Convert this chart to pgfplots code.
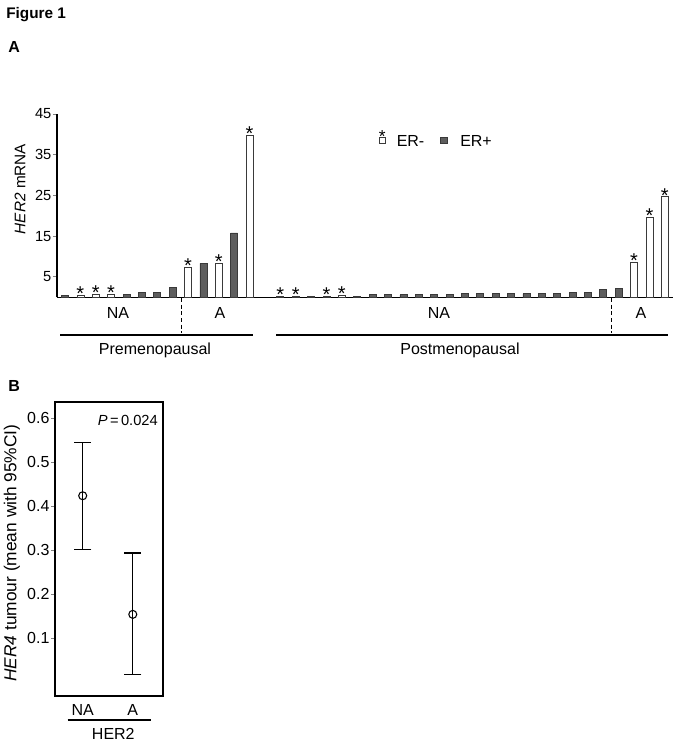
\documentclass[border=0pt]{standalone}
\usepackage{pgfplots}
\pgfplotsset{compat=1.18}
\usepackage{pgfplotstable}
\usepackage{fontspec}
\setmainfont{Liberation Sans}
\definecolor{darkbar}{HTML}{5E5E5E}
\definecolor{edge}{HTML}{3A3A3A}

% ER- bars (white, marked with *)
\pgfplotstableread{
x y
1 0.5
2 0.75
3 0.75
8 7.3
10 8.3
12 39.8
14 0.2
15 0.2
17 0.2
18 0.5
37 8.7
38 19.7
39 24.7
}\erneg
% ER+ bars (dark)
\pgfplotstableread{
x y
0 0.4
4 0.75
5 1.15
6 1.15
7 2.45
9 8.3
11 15.8
16 0.2
19 0.3
20 0.6
21 0.6
22 0.6
23 0.6
24 0.6
25 0.6
26 0.85
27 0.85
28 0.85
29 0.85
30 0.85
31 0.85
32 0.85
33 1.1
34 1.1
35 1.95
36 2.2
}\erpos

\begin{document}
\begin{tikzpicture}
\path[use as bounding box] (0pt,0pt) rectangle (510pt,-559.5pt);

\begin{axis}[
  at={(42.75pt,-222.98pt)}, anchor=south west,
  scale only axis, width=462pt, height=137.5pt,
  xmin=-0.52, xmax=39.53, ymin=0, ymax=45,
  axis x line*=bottom, axis y line*=left,
  axis line style={-, line width=0.9pt},
  every outer x axis line/.append style={-},
  every outer y axis line/.append style={-},
  xtick=\empty,
  ytick={5,15,25,35,45},
  tick align=outside, major tick length=3pt,
  ytick style={line width=0.7pt},
  /pgf/number format/assume math mode=true,
  yticklabel style={font=\fontsize{11}{13}\selectfont, inner sep=1pt},
  ylabel={\textit{HER2} mRNA},
  ylabel style={at={(axis description cs:-0.06,0.591)}, anchor=center, font=\fontsize{11.5}{13}\selectfont},
  clip=false,
]
\addplot[ybar, bar width=5.25pt, bar shift=0pt, fill=white, draw=edge, line width=0.55pt,
  nodes near coords={*},
  every node near coord/.append style={anchor=base, inner sep=0pt, yshift=-4pt, font=\fontsize{15}{15}\selectfont, text=black}]
  table {\erneg};
\addplot[ybar, bar width=5.25pt, bar shift=0pt, fill=darkbar, draw=edge, line width=0.55pt]
  table {\erpos};
\end{axis}

\begin{axis}[
  at={(41.25pt,-522pt)}, anchor=south west,
  scale only axis, width=81pt, height=220.5pt,
  xmin=0.447, xmax=2.603, ymin=-0.031, ymax=0.637,
  xtick={1,2}, xticklabels={NA,A},
  x tick style={draw=none},
  xticklabel style={font=\fontsize{12}{14}\selectfont},
  ytick={0.1,0.2,0.3,0.4,0.5,0.6},
  yticklabels={0.1,0.2,0.3,0.4,0.5,0.6},
  ytick pos=left, tick align=outside, major tick length=3pt,
  yticklabel style={font=\fontsize{12}{14}\selectfont, inner sep=1pt},
  axis line style={line width=0.9pt},
  ylabel={\textit{HER4} tumour (mean with 95\%CI)},
  ylabel style={at={(axis description cs:-0.40,0.486)}, anchor=center, font=\fontsize{13}{15}\selectfont},
  clip=false,
]
\addplot[black, only marks, mark=o, mark size=3pt, line width=0.8pt, mark options={fill=white},
  error bars/.cd, y dir=both, y explicit,
  error bar style={line width=0.8pt},
  error mark options={rotate=90, mark size=6.5pt, line width=0.8pt}]
  coordinates {(1,0.424) += (0,0.122) -= (0,0.122)
               (2,0.1545) += (0,0.1395) -= (0,0.1375)};
\end{axis}

\begin{scope}[x=0.75pt, y=-0.75pt]
\node[anchor=base west, inner sep=0pt, font=\bfseries\fontsize{11.5}{13}\selectfont] at (6,18.5) {Figure 1};
\node[anchor=base west, inner sep=0pt, font=\bfseries\fontsize{12}{13}\selectfont] at (8,52.3) {A};
\node[anchor=base west, inner sep=0pt, font=\bfseries\fontsize{12}{13}\selectfont] at (8,391) {B};
% group labels panel A
\node[inner sep=0pt, font=\fontsize{12}{14}\selectfont] at (118,313) {NA};
\node[inner sep=0pt, font=\fontsize{12}{14}\selectfont] at (220,313) {A};
\node[inner sep=0pt, font=\fontsize{12}{14}\selectfont] at (439,313) {NA};
\node[inner sep=0pt, font=\fontsize{12}{14}\selectfont] at (641,313) {A};
\draw[line width=0.9pt, dash pattern=on 3pt off 2pt] (181.7,298) -- (181.7,333);
\draw[line width=0.9pt, dash pattern=on 3pt off 2pt] (611.7,298) -- (611.7,333);
\draw[line width=0.9pt] (60,335) -- (253,335);
\draw[line width=0.9pt] (276,335) -- (668,335);
\node[anchor=base, inner sep=0pt, font=\fontsize{12}{14}\selectfont] at (155,354) {Premenopausal};
\node[anchor=base, inner sep=0pt, font=\fontsize{12}{14}\selectfont] at (460,354) {Postmenopausal};
% legend
\draw[edge, fill=white, line width=0.55pt] (379,137) rectangle (385.5,143);
\node[anchor=base, inner sep=0pt, font=\fontsize{13}{13}\selectfont] at (382.2,142.5) {*};
\node[anchor=west, inner sep=0pt, font=\fontsize{12}{14}\selectfont] at (396.5,140.5) {ER-};
\draw[edge, fill=darkbar, line width=0.55pt] (440.7,137) rectangle (447.3,143);
\node[anchor=west, inner sep=0pt, font=\fontsize{12}{14}\selectfont] at (460,140.5) {ER+};
% panel B annotations
\node[anchor=base east, inner sep=0pt, font=\fontsize{11}{13}\selectfont] at (158,425.5) {\textit{P}\,=\,0.024};
\draw[line width=0.9pt] (67.7,720) -- (151,720);
\node[inner sep=0pt, font=\fontsize{12}{14}\selectfont] at (113.3,733.7) {HER2};
\end{scope}
\end{tikzpicture}
\end{document}
